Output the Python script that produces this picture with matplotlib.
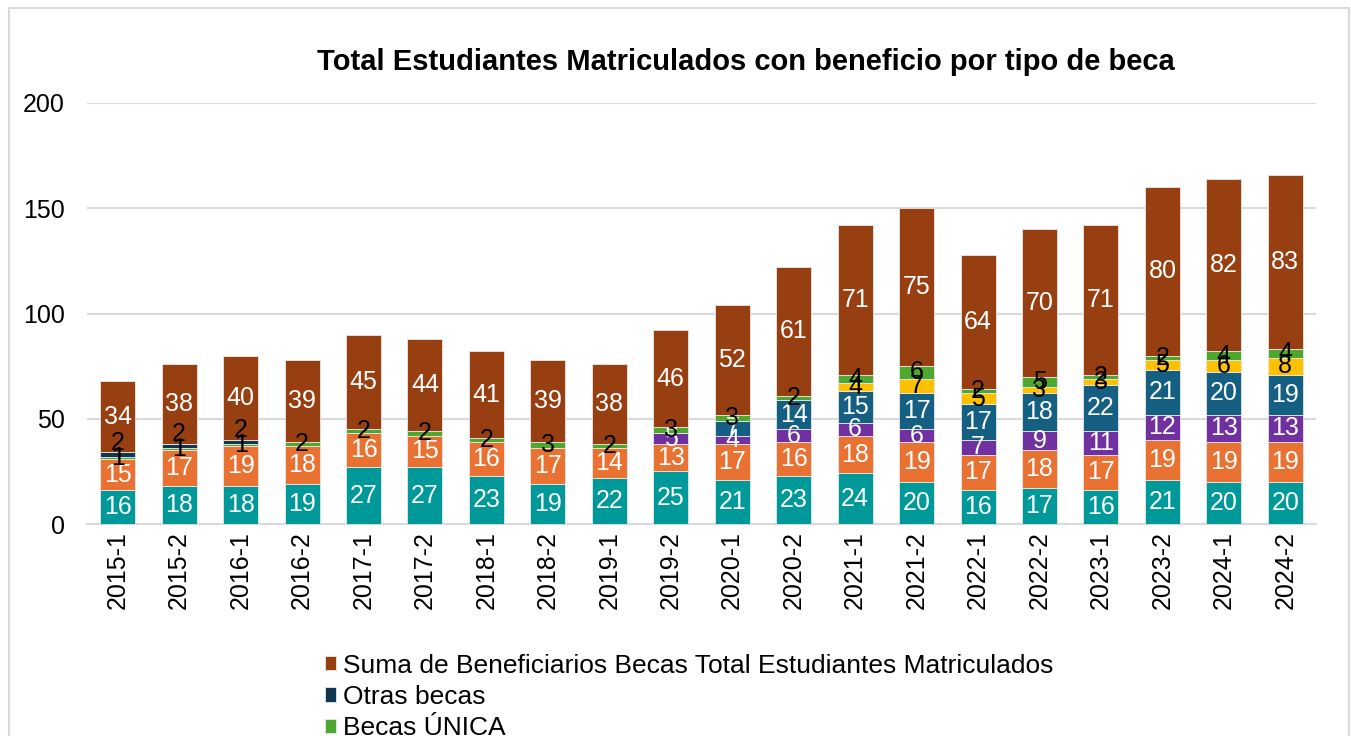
import matplotlib
matplotlib.use("Agg")
import matplotlib.pyplot as plt
import numpy as np
from matplotlib.patches import Rectangle

plt.rcParams['font.family'] = ['Liberation Sans', 'DejaVu Sans']

# datos por periodo
periodos = ['2015-1', '2015-2', '2016-1', '2016-2', '2017-1', '2017-2', '2018-1', '2018-2',
            '2019-1', '2019-2', '2020-1', '2020-2', '2021-1', '2021-2', '2022-1', '2022-2',
            '2023-1', '2023-2', '2024-1', '2024-2']
serie_1 = [16, 18, 18, 19, 27, 27, 23, 19, 22, 25, 21, 23, 24, 20, 16, 17, 16, 21, 20, 20]
serie_2 = [15, 17, 19, 18, 16, 15, 16, 17, 14, 13, 17, 16, 18, 19, 17, 18, 17, 19, 19, 19]
serie_3 = [0, 0, 0, 0, 0, 0, 0, 0, 0, 5, 4, 6, 6, 6, 7, 9, 11, 12, 13, 13]
serie_4 = [0, 0, 0, 0, 0, 0, 0, 0, 0, 0, 7, 14, 15, 17, 17, 18, 22, 21, 20, 19]
serie_5 = [0, 0, 0, 0, 0, 0, 0, 0, 0, 0, 0, 0, 4, 7, 5, 3, 3, 5, 6, 8]
becas_unica = [1, 1, 1, 2, 2, 2, 2, 3, 2, 3, 3, 2, 4, 6, 2, 5, 2, 2, 4, 4]
otras_becas = [2, 2, 2, 0, 0, 0, 0, 0, 0, 0, 0, 0, 0, 0, 0, 0, 0, 0, 0, 0]
suma_total = [34, 38, 40, 39, 45, 44, 41, 39, 38, 46, 52, 61, 71, 75, 64, 70, 71, 80, 82, 83]

# nombre, valores, color, color etiqueta, alineacion etiqueta
series = [
    ('Serie 1', serie_1, '#009999', 'white', 'center'),
    ('Serie 2', serie_2, '#E97132', 'white', 'center'),
    ('Serie 3', serie_3, '#7030A0', 'white', 'center'),
    ('Serie 4', serie_4, '#156082', 'white', 'center'),
    ('Serie 5', serie_5, '#FFC000', 'black', 'center'),
    ('Becas ÚNICA', becas_unica, '#4EA72E', 'black', 'center'),
    ('Otras becas', otras_becas, '#10374F', 'black', 'bottom'),
    ('Suma de Beneficiarios Becas Total Estudiantes Matriculados', suma_total, '#983F12', 'white', 'center'),
]

fig = plt.figure(figsize=(13.51, 7.36), dpi=100, facecolor='w')
ax = fig.add_axes([87/1351, 1-524/736, (1316-87)/1351, (524-103)/736])

x = np.arange(len(periodos))
base = np.zeros(len(periodos))
handles = []
for nombre, vals, color, tcol, va in series:
    vals = np.array(vals, dtype=float)
    b = ax.bar(x, vals, 0.57, bottom=base, color=color, edgecolor='#e8e8e8',
               linewidth=0.6, label=nombre, zorder=3)
    handles.append(b)
    for xi, v, b0 in zip(x, vals, base):
        if v > 0:
            ax.text(xi, b0 + v/2, '%d' % v, ha='center', va=va,
                    color=tcol, fontsize=18, zorder=4)
    base = base + vals

ax.set_xlim(-0.5, len(periodos) - 0.5)
ax.set_ylim(0, 200)
ax.set_yticks([0, 50, 100, 150, 200])
ax.set_xticks(x)
ax.set_xticklabels(periodos, rotation=90, fontsize=18)
ax.tick_params(axis='y', labelsize=18, length=0, pad=16)
ax.tick_params(axis='x', length=0, pad=5)
ax.grid(axis='y', color='#d9d9d9', linewidth=1.5, zorder=0)
for s in ['top', 'right', 'left']:
    ax.spines[s].set_visible(False)
ax.spines['bottom'].set_color('#d9d9d9')
ax.spines['bottom'].set_linewidth(1.5)

fig.text(746/1351, 1-62/736, 'Total Estudiantes Matriculados con beneficio por tipo de beca',
         ha='center', va='center', fontsize=21, fontweight='bold')

fig.legend(handles[::-1], [h.get_label() for h in handles[::-1]],
           loc='upper left', bbox_to_anchor=(314/1351, 1-643/736), frameon=False,
           fontsize=19, handlelength=0.45, handleheight=0.45, handletextpad=0.25,
           labelspacing=0.28, borderaxespad=0)

# marco del grafico
fig.patches.append(Rectangle((9/1351, -0.1), (1349-9)/1351, 1.1 - 8/736,
                             transform=fig.transFigure, fill=False,
                             edgecolor='#d9d9d9', linewidth=1.5))

plt.savefig('out.png', dpi=100)
